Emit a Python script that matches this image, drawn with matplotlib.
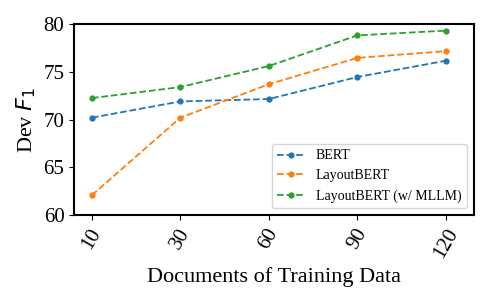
import matplotlib
matplotlib.use("Agg")
import matplotlib.pyplot as plt

docs = ["10", "30", "60", "90", "120"]
bert = [70.2, 71.9, 72.15, 74.45, 76.15]
layoutbert = [62.1, 70.2, 73.7, 76.45, 77.15]
layoutbert_mllm = [72.25, 73.4, 75.6, 78.8, 79.3]

plt.rcParams.update({"font.family": "Liberation Serif", "mathtext.fontset": "dejavusans"})

fig, ax = plt.subplots(figsize=(4.98, 2.99), dpi=100)
x = range(len(docs))
for vals, color, label in zip([bert, layoutbert, layoutbert_mllm],
                              ["#1f77b4", "#ff7f0e", "#2ca02c"],
                              ["BERT", "LayoutBERT", "LayoutBERT (w/ MLLM)"]):
    ax.plot(x, vals, "--", color=color, marker="o", markersize=3.5, linewidth=1.3, label=label)

ax.set_xticks(list(x))
ax.set_xticklabels(docs, rotation=60, fontsize=15)
ax.set_ylim(60, 80)
ax.set_yticks([60, 65, 70, 75, 80])
ax.tick_params(axis="y", labelsize=15)
ax.set_xlim(-0.2, 4.32)
ax.set_xlabel("Documents of Training Data", fontsize=16)
ax.set_ylabel("Dev $F_1$", fontsize=16)
for s in ax.spines.values():
    s.set_linewidth(1.5)
ax.legend(loc="lower right", fontsize=10)

fig.subplots_adjust(left=0.149, right=0.952, top=0.92, bottom=0.28)
fig.savefig("out.png", dpi=100)
